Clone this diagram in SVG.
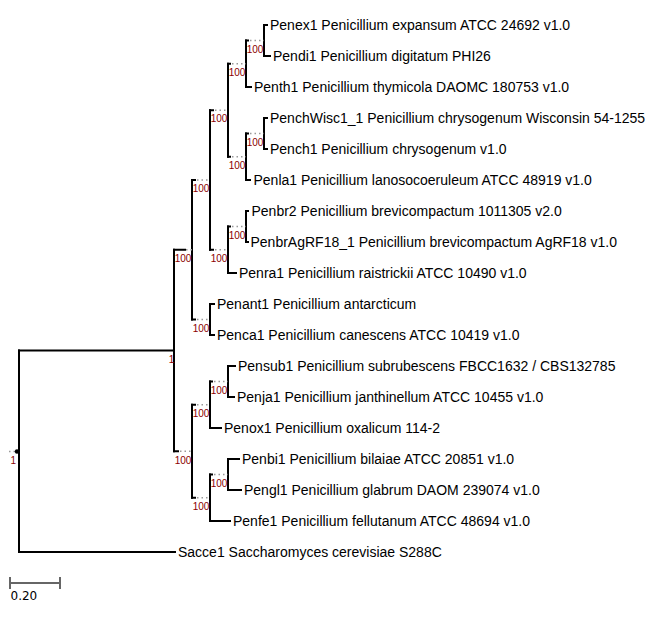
<svg xmlns="http://www.w3.org/2000/svg" width="657" height="628" viewBox="0 0 657 628">
<style>
.br{stroke:#000;stroke-width:2;fill:none;stroke-linecap:square}
.dot{stroke:#999;stroke-width:1.5;fill:none;stroke-dasharray:1.5,3}
.lf{font-family:"Liberation Sans",Arial,sans-serif;font-size:14px;fill:#000}
.sup{font-family:"Liberation Sans",Arial,sans-serif;font-size:10px;fill:#8b0000;text-anchor:middle}
</style>
<rect width="657" height="628" fill="#fff"/>
<g id="connectors">
<!-- root -->
<path class="br" d="M19,350.5V552"/>
<path class="dot" d="M9,451.5H17"/>
<circle cx="17" cy="451.5" r="2.2" fill="#000"/>
<!-- P -->
<path class="br" d="M19,350.5H174M174,249.75V451.25"/>
<path class="br" d="M19,552H175"/>
<!-- U -->
<path class="br" d="M174,249.75H185M192,180V319.5"/>
<path class="dot" d="M186,249.75H192"/>
<!-- L -->
<path class="br" d="M174,451.25H178M192,404.75V497.75"/>
<path class="dot" d="M180,451.25H192"/>
<!-- A -->
<path class="br" d="M192,180H195M210,110.25V249.75"/>
<path class="dot" d="M197,180H210"/>
<!-- B -->
<path class="br" d="M192,319.5H195M210,304V335"/>
<path class="dot" d="M197,319.5H210"/>
<!-- A1 -->
<path class="br" d="M210,110.25H213M228,63.75V156.75"/>
<path class="dot" d="M215,110.25H228"/>
<!-- A2 -->
<path class="br" d="M210,249.75H213M228,226.5V273"/>
<path class="dot" d="M215,249.75H228"/>
<!-- A11 -->
<path class="br" d="M228,63.75H230M246,40.5V87"/>
<path class="dot" d="M232,63.75H246"/>
<!-- A12 -->
<path class="br" d="M228,156.75H230M246,133.5V180"/>
<path class="dot" d="M232,156.75H246"/>
<!-- ex/di -->
<path class="br" d="M246,40.5H248M264,25V56"/>
<path class="dot" d="M250,40.5H264"/>
<!-- wisc -->
<path class="br" d="M246,133.5H248M264,118V149"/>
<path class="dot" d="M250,133.5H264"/>
<!-- br -->
<path class="br" d="M228,226.5H230M246,211V242"/>
<path class="dot" d="M232,226.5H246"/>
<!-- L1 -->
<path class="br" d="M192,404.75H195M210,381.5V428"/>
<path class="dot" d="M197,404.75H210"/>
<!-- L2 -->
<path class="br" d="M192,497.75H195M210,474.5V521"/>
<path class="dot" d="M197,497.75H210"/>
<!-- sub -->
<path class="br" d="M210,381.5H212M228,366V397"/>
<path class="dot" d="M214,381.5H228"/>
<!-- bi -->
<path class="br" d="M210,474.5H212M228,459V490"/>
<path class="dot" d="M214,474.5H228"/>
<!-- leaves -->
<path class="br" d="M264,25H267M264,56H270M246,87H251M264,118H267M264,149H267M246,180H250M246,211H248M246,242H248M228,273H236M210,304H214M210,335H214M228,366H235M228,397H234M210,428H221M228,459H239M228,490H241M210,521H230"/>
</g>
<g id="support">
<text class="sup" x="13.3" y="464">1</text>
<text class="sup" x="171.5" y="363">1</text>
<text class="sup" x="183" y="262">100</text>
<text class="sup" x="183" y="463.5">100</text>
<text class="sup" x="201" y="192">100</text>
<text class="sup" x="201" y="331.5">100</text>
<text class="sup" x="219" y="122">100</text>
<text class="sup" x="219" y="261.5">100</text>
<text class="sup" x="237" y="75.5">100</text>
<text class="sup" x="237" y="168.5">100</text>
<text class="sup" x="255" y="52.5">100</text>
<text class="sup" x="255" y="145.5">100</text>
<text class="sup" x="237" y="238.5">100</text>
<text class="sup" x="201" y="416.5">100</text>
<text class="sup" x="201" y="509.5">100</text>
<text class="sup" x="219" y="393.5">100</text>
<text class="sup" x="219" y="486.5">100</text>
</g>
<g id="leaf-Penex1"><text class="lf" x="270" y="30">Penex1 Penicillium expansum ATCC 24692 v1.0</text></g>
<g id="leaf-Pendi1"><text class="lf" x="273" y="61">Pendi1 Penicillium digitatum PHI26</text></g>
<g id="leaf-Penth1"><text class="lf" x="254" y="92">Penth1 Penicillium thymicola DAOMC 180753 v1.0</text></g>
<g id="leaf-PenchWisc1_1"><text class="lf" x="270" y="123">PenchWisc1_1 Penicillium chrysogenum Wisconsin 54-1255</text></g>
<g id="leaf-Pench1"><text class="lf" x="270" y="154">Pench1 Penicillium chrysogenum v1.0</text></g>
<g id="leaf-Penla1"><text class="lf" x="253.5" y="185">Penla1 Penicillium lanosocoeruleum ATCC 48919 v1.0</text></g>
<g id="leaf-Penbr2"><text class="lf" x="251.5" y="216">Penbr2 Penicillium brevicompactum 1011305 v2.0</text></g>
<g id="leaf-PenbrAgRF18_1"><text class="lf" x="250.5" y="247">PenbrAgRF18_1 Penicillium brevicompactum AgRF18 v1.0</text></g>
<g id="leaf-Penra1"><text class="lf" x="239" y="278">Penra1 Penicillium raistrickii ATCC 10490 v1.0</text></g>
<g id="leaf-Penant1"><text class="lf" x="217" y="309">Penant1 Penicillium antarcticum</text></g>
<g id="leaf-Penca1"><text class="lf" x="217" y="340">Penca1 Penicillium canescens ATCC 10419 v1.0</text></g>
<g id="leaf-Pensub1"><text class="lf" x="238" y="371">Pensub1 Penicillium subrubescens FBCC1632 / CBS132785</text></g>
<g id="leaf-Penja1"><text class="lf" x="237" y="402">Penja1 Penicillium janthinellum ATCC 10455 v1.0</text></g>
<g id="leaf-Penox1"><text class="lf" x="224" y="433">Penox1 Penicillium oxalicum 114-2</text></g>
<g id="leaf-Penbi1"><text class="lf" x="242" y="464">Penbi1 Penicillium bilaiae ATCC 20851 v1.0</text></g>
<g id="leaf-Pengl1"><text class="lf" x="244" y="495">Pengl1 Penicillium glabrum DAOM 239074 v1.0</text></g>
<g id="leaf-Penfe1"><text class="lf" x="233" y="526">Penfe1 Penicillium fellutanum ATCC 48694 v1.0</text></g>
<g id="leaf-Sacce1"><text class="lf" x="178" y="557">Sacce1 Saccharomyces cerevisiae S288C</text></g>
<g id="scale">
<path d="M10,583H60M10,577V589M60,577V589" stroke="#666" stroke-width="2" fill="none"/>
<text x="10.5" y="600" font-family="DejaVu Sans,sans-serif" font-size="12px" fill="#000">0.20</text>
</g>
</svg>
